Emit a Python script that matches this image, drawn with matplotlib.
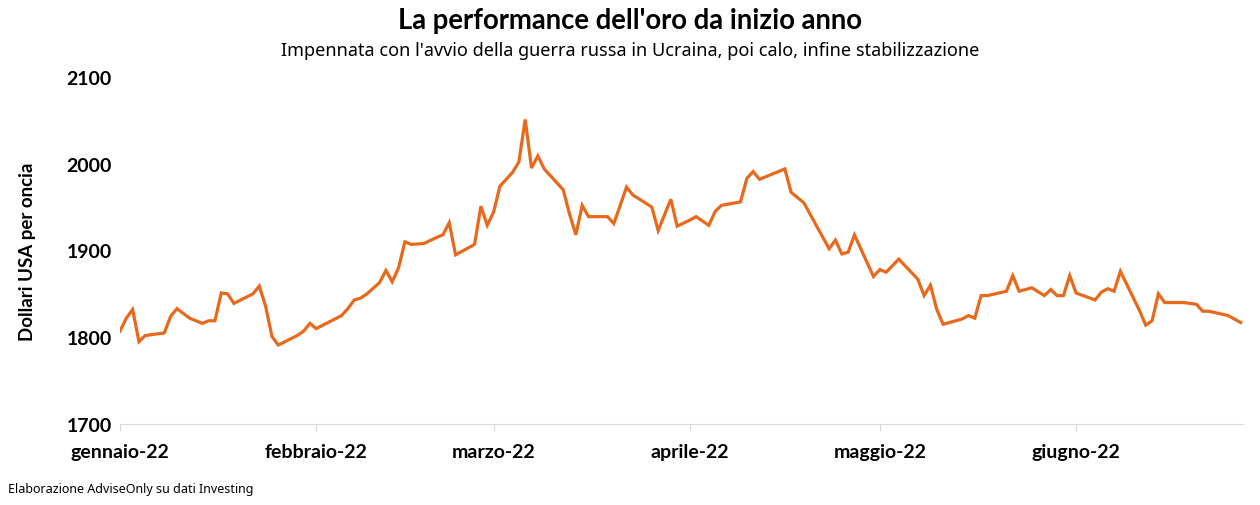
import pandas as pd
import matplotlib
matplotlib.use("Agg")
import matplotlib.pyplot as plt

plt.rcParams["font.family"] = ["Lato", "DejaVu Sans"]

# prezzo dell'oro (USD/oncia)
dates = [
    "2022-01-03", "2022-01-04", "2022-01-05", "2022-01-06", "2022-01-07",
    "2022-01-10", "2022-01-11", "2022-01-12", "2022-01-14", "2022-01-16",
    "2022-01-17", "2022-01-18", "2022-01-19", "2022-01-20", "2022-01-21",
    "2022-01-24", "2022-01-25", "2022-01-26", "2022-01-27", "2022-01-28",
    "2022-01-31", "2022-02-01", "2022-02-02", "2022-02-03", "2022-02-07",
    "2022-02-08", "2022-02-09", "2022-02-10", "2022-02-11", "2022-02-13",
    "2022-02-14", "2022-02-15", "2022-02-16", "2022-02-17", "2022-02-18",
    "2022-02-20", "2022-02-22", "2022-02-23", "2022-02-24", "2022-02-25",
    "2022-02-28", "2022-03-01", "2022-03-02", "2022-03-03", "2022-03-04",
    "2022-03-06", "2022-03-07", "2022-03-08", "2022-03-09", "2022-03-10",
    "2022-03-11", "2022-03-14", "2022-03-15", "2022-03-16", "2022-03-17",
    "2022-03-18", "2022-03-21", "2022-03-22", "2022-03-24", "2022-03-25",
    "2022-03-28", "2022-03-29", "2022-03-31", "2022-04-01", "2022-04-03",
    "2022-04-04", "2022-04-06", "2022-04-07", "2022-04-08", "2022-04-11",
    "2022-04-12", "2022-04-13", "2022-04-14", "2022-04-18", "2022-04-19",
    "2022-04-20", "2022-04-21", "2022-04-25", "2022-04-26", "2022-04-27",
    "2022-04-28", "2022-04-29", "2022-05-02", "2022-05-03", "2022-05-04",
    "2022-05-06", "2022-05-09", "2022-05-10", "2022-05-11", "2022-05-12",
    "2022-05-13", "2022-05-16", "2022-05-17", "2022-05-18", "2022-05-19",
    "2022-05-20", "2022-05-23", "2022-05-24", "2022-05-25", "2022-05-27",
    "2022-05-29", "2022-05-30", "2022-05-31", "2022-06-01", "2022-06-02",
    "2022-06-03", "2022-06-06", "2022-06-07", "2022-06-08", "2022-06-09",
    "2022-06-10", "2022-06-13", "2022-06-14", "2022-06-15", "2022-06-16",
    "2022-06-17", "2022-06-20", "2022-06-22", "2022-06-23", "2022-06-24",
    "2022-06-27", "2022-06-28", "2022-06-29",
]
prices = [
    1807, 1822, 1832, 1795, 1802,
    1805, 1824, 1833, 1822, 1816,
    1819, 1819, 1851, 1850, 1839,
    1850, 1859, 1836, 1801, 1791,
    1802, 1807, 1816, 1810, 1825,
    1833, 1843, 1845, 1850, 1863,
    1877, 1864, 1880, 1910, 1907,
    1908, 1915, 1918, 1932, 1895,
    1907, 1951, 1929, 1944, 1974,
    1990, 2002, 2051, 1995, 2009,
    1994, 1970, 1942, 1918, 1952,
    1939, 1939, 1931, 1973, 1964,
    1950, 1923, 1959, 1928, 1935,
    1939, 1929, 1945, 1952, 1956,
    1983, 1991, 1982, 1994, 1967,
    1961, 1955, 1902, 1912, 1896,
    1898, 1918, 1870, 1878, 1875,
    1890, 1867, 1848, 1860, 1832,
    1815, 1821, 1825, 1822, 1848,
    1848, 1853, 1871, 1853, 1857,
    1848, 1855, 1848, 1848, 1871,
    1851, 1843, 1852, 1856, 1853,
    1876, 1831, 1814, 1819, 1850,
    1840, 1840, 1838, 1830, 1830,
    1825, 1821, 1817,
]

month_ticks = ["2022-01-03", "2022-02-03", "2022-03-03", "2022-04-03", "2022-05-03", "2022-06-03"]
month_labels = ["gennaio-22", "febbraio-22", "marzo-22", "aprile-22", "maggio-22", "giugno-22"]

x = pd.to_datetime(dates)

fig = plt.figure(figsize=(12.6, 5.06), dpi=100)
ax = fig.add_axes([0.0952, 0.160, 0.891, 0.686])

ax.plot(x, prices, color="#E8691C", linewidth=2.3, solid_joinstyle="miter")

ax.set_ylim(1700, 2100)
ax.set_yticks([1700, 1800, 1900, 2000, 2100])
ax.set_xlim(x[0], x[-1] + pd.Timedelta(days=0.3))
ax.set_xticks(pd.to_datetime(month_ticks))
ax.set_xticklabels(month_labels)

for s in ["top", "right", "left"]:
    ax.spines[s].set_visible(False)
ax.spines["bottom"].set_color("#d9d9d9")
ax.tick_params(axis="y", length=0, pad=6, labelsize=14)
ax.tick_params(axis="x", length=5, color="#d9d9d9", pad=9, labelsize=14)
for lab in ax.get_xticklabels() + ax.get_yticklabels():
    lab.set_fontweight("bold")

ax.set_ylabel("Dollari USA per oncia", fontsize=13.5, fontweight="bold")
ax.yaxis.set_label_coords(-0.075, 0.5)

fig.text(0.5, 0.958, "La performance dell'oro da inizio anno", ha="center", va="center",
         fontsize=19.8, fontweight="bold")
fig.text(0.5, 0.900, "Impennata con l'avvio della guerra russa in Ucraina, poi calo, infine stabilizzazione",
         ha="center", va="center", fontsize=13, family=["Noto Sans", "DejaVu Sans"])
fig.text(0.006, 0.032, "Elaborazione AdviseOnly su dati Investing", ha="left", va="center",
         fontsize=9, family=["Noto Sans", "DejaVu Sans"])

fig.savefig("out.png", dpi=100)
